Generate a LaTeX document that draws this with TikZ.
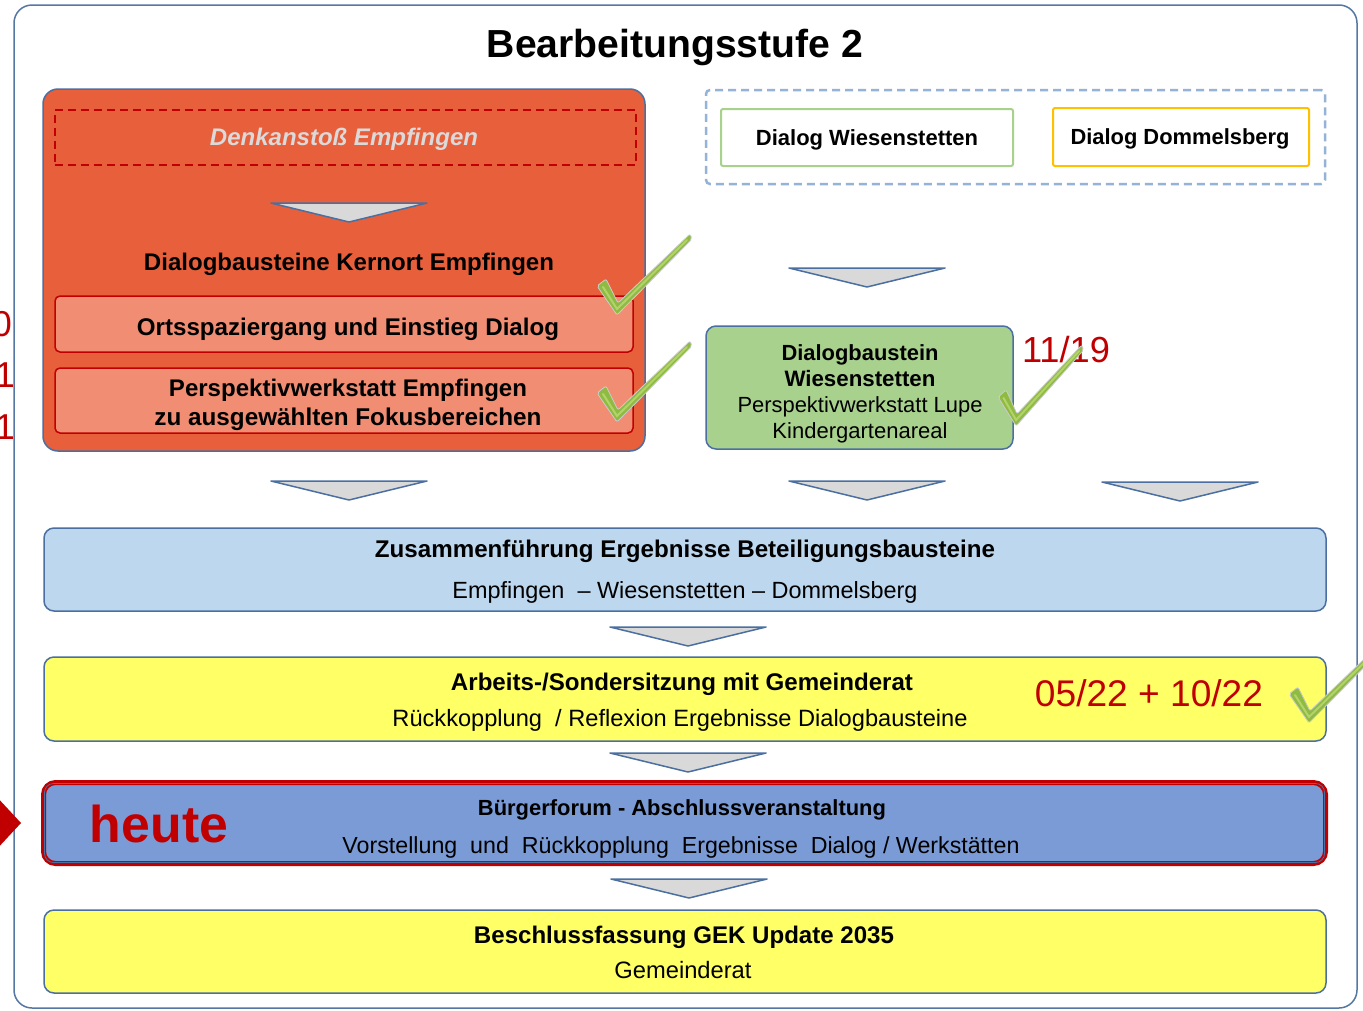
\documentclass[tikz,border=0pt]{standalone}
\usepackage{fontspec}
\setmainfont{Liberation Sans}
\usepackage{graphicx}
\definecolor{frameblue}{HTML}{5577A3}
\definecolor{kernred}{HTML}{E85F3B}
\definecolor{salmon}{HTML}{F08D72}
\definecolor{darkred}{HTML}{C00000}
\definecolor{boxblue}{HTML}{4A6FA0}
\definecolor{wgreen}{HTML}{A9D18E}
\definecolor{amber}{HTML}{FFC000}
\definecolor{lblue}{HTML}{BDD7EE}
\definecolor{yel}{HTML}{FFFF66}
\definecolor{midblue}{HTML}{7A9BD5}
\definecolor{dashblue}{HTML}{95B3D7}
\definecolor{trigray}{HTML}{D9D9D9}
\definecolor{denkgray}{HTML}{DADADA}
\definecolor{checkgreen}{HTML}{8FBB42}
\definecolor{checklight}{HTML}{B2D36A}
\newcommand\fitw[2]{\resizebox{#1pt}{!}{#2}}
\tikzset{
  box/.style={draw=boxblue, line width=1.5pt, rounded corners=10pt, inner sep=0pt, outer sep=0pt},
  txt/.style={anchor=base, inner sep=0pt, outer sep=0pt},
  tri/.style={draw=boxblue, fill=trigray, line width=1.5pt, line join=round},
  downtri/.pic={\draw[tri] (-78,0) -- (78,0) -- (0,19) -- cycle;},
  checkmk/.pic={
    \fill[checkgreen, draw=white!80!black, line width=0.8pt, rounded corners=2pt]
      (-21,-24) -- (-1,5) -- (74,-71) -- (72,-76) -- (0,-7) -- (-12,-31) -- cycle;
    \draw[checklight, line width=2pt, line cap=round] (-15,-23) -- (-1,-1) -- (69,-70);
  },
}
\begin{document}
\begin{tikzpicture}[x=1pt,y=-1pt]
\useasboundingbox (0,0) rectangle (1363,1010);
\fill[white] (0,0) rectangle (1363,1010);
% outer frame
\node[draw=frameblue, line width=1.5pt, rounded corners=18pt, inner sep=0pt, minimum width=1343pt, minimum height=1003pt] (frame) at (685.5,506.5) {};
% left partial labels and marker
\node[anchor=base east, inner sep=0pt, text=darkred, font=\fontsize{36}{40}\selectfont] (l1) at (12,336) {0};
\node[anchor=base east, inner sep=0pt, text=darkred, font=\fontsize{36}{40}\selectfont] (l2) at (15,387) {1};
\node[anchor=base east, inner sep=0pt, text=darkred, font=\fontsize{36}{40}\selectfont] (l3) at (15,439) {1};
\fill[darkred] (-5,795) -- (21,823) -- (-5,851) -- cycle;
% title
\node[txt] (title) at (675,57.5) {\fitw{376}{\bfseries Bearbeitungsstufe 2}};
% Empfingen block
\node[box, fill=kernred, rounded corners=15pt, minimum width=602pt, minimum height=362pt] (kern) at (344,270) {};
\node[draw=darkred, line width=1.5pt, dash pattern=on 8pt off 5pt, inner sep=0pt, minimum width=581pt, minimum height=55pt] (denk) at (345.5,137.5) {};
\node[draw=darkred, fill=salmon, line width=1.5pt, rounded corners=5pt, inner sep=0pt, minimum width=578pt, minimum height=56pt] (orts) at (344,324) {};
\node[draw=darkred, fill=salmon, line width=1.5pt, rounded corners=5pt, inner sep=0pt, minimum width=578pt, minimum height=65pt] (persp) at (344,400.5) {};
\node[txt, text=denkgray] (denkT) at (344,145.5) {\fitw{268}{\bfseries\itshape Denkanstoß Empfingen}};
\node[txt] (kernT) at (349,270.5) {\fitw{410}{\bfseries Dialogbausteine Kernort Empfingen}};
\node[txt] (ortsT) at (348,335.5) {\fitw{422}{\bfseries Ortsspaziergang und Einstieg Dialog}};
\node[txt] (perspA) at (348,396.5) {\fitw{358}{\bfseries Perspektivwerkstatt Empfingen}};
\node[txt] (perspB) at (348,425.5) {\fitw{387}{\bfseries zu ausgewählten Fokusbereichen}};
% Dialog group
\node[draw=dashblue, line width=2.5pt, dash pattern=on 8pt off 5pt, rounded corners=4pt, inner sep=0pt, minimum width=619pt, minimum height=94pt] (dgrp) at (1015.5,137) {};
\node[draw=wgreen, fill=white, line width=2pt, rounded corners=2pt, inner sep=0pt, minimum width=292pt, minimum height=57pt] (wies) at (867,137.5) {};
\node[draw=amber, fill=white, line width=2pt, rounded corners=2pt, inner sep=0pt, minimum width=256pt, minimum height=58pt] (domm) at (1181,137) {};
\node[txt] (wiesT) at (867,145) {\fitw{222}{\bfseries Dialog Wiesenstetten}};
\node[txt] (dommT) at (1180,144) {\fitw{219}{\bfseries Dialog Dommelsberg}};
% Wiesenstetten module
\node[box, fill=wgreen, minimum width=307pt, minimum height=123pt] (green) at (859.5,387.5) {};
\node[txt] (gA) at (860,360) {\fitw{157}{\bfseries Dialogbaustein}};
\node[txt] (gB) at (860,386) {\fitw{151}{\bfseries Wiesenstetten}};
\node[txt] (gC) at (860,412) {\fitw{245}{Perspektivwerkstatt Lupe}};
\node[txt] (gD) at (860,438) {\fitw{175}{Kindergartenareal}};
\node[txt, text=darkred] (d1119) at (1066,362) {\fitw{88}{11/19}};
% merge
\node[box, fill=lblue, minimum width=1282pt, minimum height=83pt] (zus) at (685,569.5) {};
\node[txt] (zusA) at (685,557.5) {\fitw{620}{\bfseries Zusammenführung Ergebnisse Beteiligungsbausteine}};
\node[txt] (zusB) at (685,598.5) {\fitw{465}{Empfingen \ – Wiesenstetten – Dommelsberg}};
% council meeting
\node[box, fill=yel, minimum width=1282pt, minimum height=84pt] (arb) at (685,699) {};
\node[txt] (arbA) at (682,690.5) {\fitw{462}{\bfseries Arbeits-/Sondersitzung mit Gemeinderat}};
\node[txt] (arbB) at (680,726.5) {\fitw{575}{Rückkopplung \ / Reflexion Ergebnisse Dialogbausteine}};
\node[txt, text=darkred] (d0522) at (1149,706) {\fitw{228}{05/22 + 10/22}};
% Buergerforum
\node[draw=darkred, fill=midblue, line width=5pt, rounded corners=12pt, inner sep=0pt, minimum width=1282pt, minimum height=81pt] (bf) at (684.5,823) {};
\draw[boxblue, line width=0.8pt, rounded corners=9pt] ([shift={(3.5,3.5)}]bf.north west) rectangle ([shift={(-3.5,-3.5)}]bf.south east);
\node[txt] (bfA) at (682,815) {\fitw{408}{\bfseries Bürgerforum - Abschlussveranstaltung}};
\node[txt] (bfB) at (681,853.5) {\fitw{677}{Vorstellung \ und \ Rückkopplung \ Ergebnisse \ Dialog / Werkstätten}};
\node[txt, text=darkred] (heute) at (159,842) {\fitw{138}{\bfseries heute}};
% decision
\node[box, fill=yel, minimum width=1282pt, minimum height=83pt] (besch) at (685,951.5) {};
\node[txt] (beA) at (684,943.5) {\fitw{420}{\bfseries Beschlussfassung GEK Update 2035}};
\node[txt] (beB) at (683,978.5) {\fitw{137}{Gemeinderat}};
% flow triangles
\pic at (349,203) {downtri};
\pic at (867,268) {downtri};
\pic at (349,481) {downtri};
\pic at (867,481) {downtri};
\pic at (1180,482) {downtri};
\pic at (688,627) {downtri};
\pic at (688,753) {downtri};
\pic at (689,879) {downtri};
% check marks
\pic at (618,310) {checkmk};
\pic at (618,417) {checkmk};
\pic[xscale=0.9] at (1017,421) {checkmk};
\pic at (1310,718) {checkmk};
\end{tikzpicture}
\end{document}
